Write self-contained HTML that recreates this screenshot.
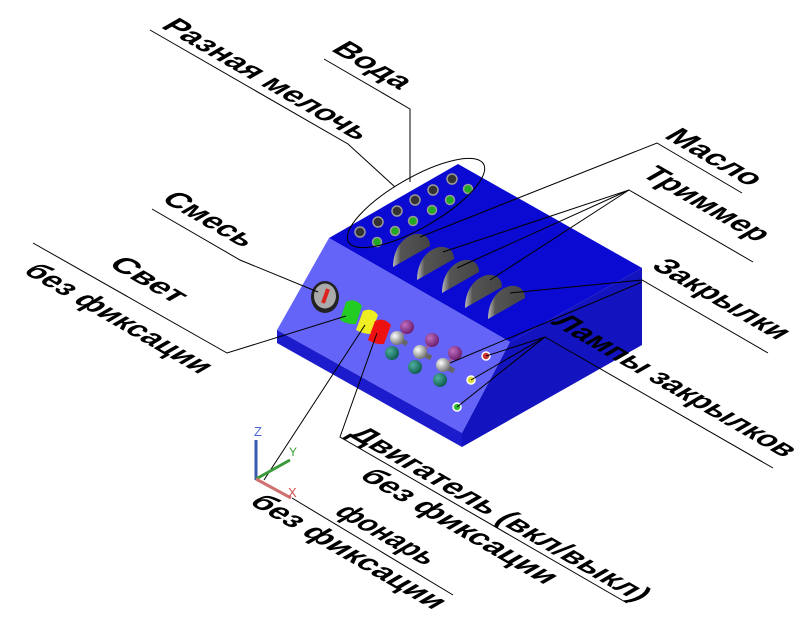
<!DOCTYPE html>
<html><head><meta charset="utf-8"><style>html,body{margin:0;padding:0;background:#fff}svg{display:block}</style></head>
<body>
<svg width="804" height="622" viewBox="0 0 804 622" xmlns="http://www.w3.org/2000/svg" font-family="'Liberation Sans', sans-serif">
<defs>
<radialGradient id="gb" cx="35%" cy="35%" r="65%"><stop offset="0" stop-color="#fff"/><stop offset="1" stop-color="#777"/></radialGradient>
<radialGradient id="pb" cx="35%" cy="35%" r="65%"><stop offset="0" stop-color="#c070c0"/><stop offset="1" stop-color="#702070"/></radialGradient>
<radialGradient id="tb" cx="35%" cy="35%" r="65%"><stop offset="0" stop-color="#50b0a0"/><stop offset="1" stop-color="#106050"/></radialGradient>
<linearGradient id="lv" x1="0" y1="0" x2="1" y2="0"><stop offset="0" stop-color="#bbb"/><stop offset="0.2" stop-color="#555"/><stop offset="1" stop-color="#444"/></linearGradient>
</defs>
<polygon points="329,238 458,164 642,268 510,342" fill="#0a0ad2"/>
<polygon points="329,238 510,342 462,433 277,330" fill="#6464f8"/>
<polygon points="277,330 462,433 462,447 277,343" fill="#1c1ccc"/>
<polygon points="510,342 642,268 642,345 462,447 462,433" fill="#1313c0"/>
<g stroke="#999" stroke-width="1.5">
<circle cx="360" cy="232" r="5" fill="#333"/><circle cx="378" cy="222" r="5" fill="#333"/><circle cx="397" cy="211" r="5" fill="#333"/><circle cx="415" cy="200" r="5" fill="#333"/><circle cx="433" cy="190" r="5" fill="#333"/><circle cx="452" cy="179" r="5" fill="#333"/>
<circle cx="377" cy="242" r="4.5" fill="#2a2"/><circle cx="395" cy="231" r="4.5" fill="#2a2"/><circle cx="413" cy="221" r="4.5" fill="#2a2"/><circle cx="432" cy="210" r="4.5" fill="#2a2"/><circle cx="450" cy="200" r="4.5" fill="#2a2"/><circle cx="468" cy="189" r="4.5" fill="#2a2"/>
</g>
<ellipse cx="416" cy="203" rx="78" ry="25" transform="rotate(-30 416 203)" fill="none" stroke="#000" stroke-width="1"/>
<g fill="url(#lv)">
<path d="M393,267 L430,246 C430,236 422,233 415,234 C402,237 393,250 393,267Z"/>
<path d="M417,280 L454,259 C454,249 446,246 439,247 C426,250 417,263 417,280Z"/>
<path d="M442,293 L479,272 C479,262 471,259 464,260 C451,263 442,276 442,293Z"/>
<path d="M465,308 L502,287 C502,277 494,274 487,275 C474,278 465,291 465,308Z"/>
<path d="M488,319 L525,298 C525,288 517,285 510,286 C497,289 488,302 488,319Z"/>
</g>
<ellipse cx="325" cy="297" rx="14" ry="16" fill="#222"/>
<ellipse cx="325" cy="296" rx="11" ry="12.5" fill="#aaa"/>
<line x1="323" y1="303" x2="328" y2="289" stroke="#d22" stroke-width="4"/>
<path d="M340,320 L346,302 Q355,297 362,306 L356,324 Q348,325 340,320Z" fill="#2c2"/>
<path d="M356,330 L363,311 Q372,307 378,315 L371,334 Q363,334 356,330Z" fill="#ee2"/>
<path d="M368,340 L375,321 Q384,317 391,325 L384,344 Q376,345 368,340Z" fill="#e11"/>
<g>
<circle cx="392" cy="353" r="7" fill="url(#tb)"/><line x1="398" y1="340" x2="407" y2="329" stroke="#a060a0" stroke-width="3"/><circle cx="407" cy="327" r="7" fill="url(#pb)"/><line x1="397" y1="338" x2="407" y2="344" stroke="#666" stroke-width="5"/><circle cx="397" cy="338" r="7" fill="url(#gb)"/>
<circle cx="415" cy="367" r="7" fill="url(#tb)"/><line x1="422" y1="352" x2="432" y2="342" stroke="#a060a0" stroke-width="3"/><circle cx="432" cy="340" r="7" fill="url(#pb)"/><line x1="420" y1="352" x2="431" y2="358" stroke="#666" stroke-width="5"/><circle cx="420" cy="352" r="7" fill="url(#gb)"/>
<circle cx="440" cy="380" r="7" fill="url(#tb)"/><line x1="446" y1="365" x2="455" y2="355" stroke="#a060a0" stroke-width="3"/><circle cx="455" cy="353" r="7" fill="url(#pb)"/><line x1="443" y1="365" x2="454" y2="371" stroke="#666" stroke-width="5"/><circle cx="443" cy="365" r="7" fill="url(#gb)"/>
</g>
<g stroke="#fff" stroke-width="1.5">
<circle cx="486" cy="356" r="4" fill="#c33"/><circle cx="471" cy="380" r="4" fill="#dd3"/><circle cx="457" cy="407" r="4" fill="#3b3"/>
</g>
<g fill="none" stroke="#000" stroke-width="1">
<polyline points="150,30 348,144 395,187"/>
<polyline points="324,59 410,109 410,182"/>
<polyline points="742,193 657,143 420,237"/>
<polyline points="753,262 629,190 443,252"/><line x1="629" y1="190" x2="457" y2="268"/><line x1="629" y1="190" x2="490" y2="280"/>
<polyline points="768,353 642,280 510,293"/><line x1="642" y1="282" x2="450" y2="363"/>
<polyline points="773,468 545,337 486,356"/><line x1="545" y1="337" x2="471" y2="380"/><line x1="545" y1="337" x2="457" y2="407"/>
<polyline points="152,209 240,260 318,292"/>
<polyline points="33,243 227,353 346,316"/>
<polyline points="365,325 264,480"/>
<polyline points="292,498 453,595"/>
<polyline points="377,333 340,437 627,603"/>
</g>
<line x1="256" y1="440" x2="256" y2="480" stroke="#3a5ab0" stroke-width="3"/>
<line x1="256" y1="479" x2="290" y2="460" stroke="#3a9a3a" stroke-width="3"/>
<line x1="256" y1="479" x2="291" y2="498" stroke="#d07070" stroke-width="3"/>
<text x="254" y="436" font-size="13" fill="#4a6ad0">Z</text>
<text x="289" y="456" font-size="12" fill="#3a9a3a">Y</text>
<text x="288" y="497" font-size="13" fill="#d05050">X</text>
<g font-size="30" font-weight="bold" fill="#000">
<text transform="matrix(0.866,0.5,-0.866,0.5,160,27)" textLength="228" lengthAdjust="spacingAndGlyphs">Разная мелочь</text>
<text transform="matrix(0.866,0.5,-0.866,0.5,330,50)" textLength="80" lengthAdjust="spacingAndGlyphs">Вода</text>
<text transform="matrix(0.866,0.5,-0.866,0.5,663,137)" textLength="100" lengthAdjust="spacingAndGlyphs">Масло</text>
<text transform="matrix(0.866,0.5,-0.866,0.5,640,175)" textLength="135" lengthAdjust="spacingAndGlyphs">Триммер</text>
<text transform="matrix(0.866,0.5,-0.866,0.5,650,267)" textLength="147" lengthAdjust="spacingAndGlyphs">Закрылки</text>
<text transform="matrix(0.866,0.5,-0.866,0.5,550,323)" textLength="270" lengthAdjust="spacingAndGlyphs">Лампы закрылков</text>
<text transform="matrix(0.866,0.5,-0.866,0.5,160,200)" textLength="96" lengthAdjust="spacingAndGlyphs">Смесь</text>
<text transform="matrix(0.866,0.5,-0.866,0.5,107,265)" textLength="78" lengthAdjust="spacingAndGlyphs">Свет</text>
<text transform="matrix(0.866,0.5,-0.866,0.5,22,272)" textLength="205" lengthAdjust="spacingAndGlyphs">без фиксации</text>
<text transform="matrix(0.866,0.5,-0.866,0.5,347,435)" textLength="335" lengthAdjust="spacingAndGlyphs">Двигатель (вкл/выкл)</text>
<text transform="matrix(0.866,0.5,-0.866,0.5,358,477)" textLength="216" lengthAdjust="spacingAndGlyphs">без фиксации</text>
<text transform="matrix(0.866,0.5,-0.866,0.5,333,513)" textLength="106" lengthAdjust="spacingAndGlyphs">фонарь</text>
<text transform="matrix(0.866,0.5,-0.866,0.5,248,503)" textLength="214" lengthAdjust="spacingAndGlyphs">без фиксации</text>
</g>
</svg>
</body></html>
